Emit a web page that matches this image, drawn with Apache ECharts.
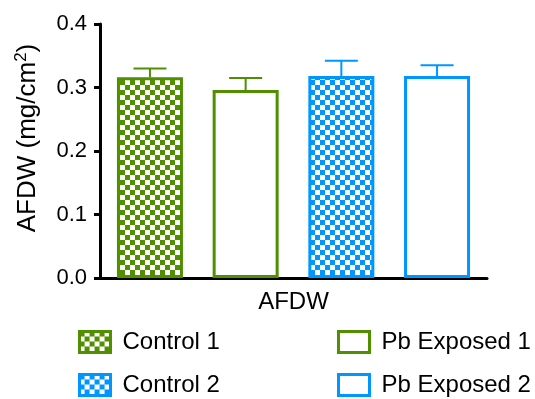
<!DOCTYPE html>
<html>
<head>
<meta charset="utf-8">
<script src="https://cdn.jsdelivr.net/npm/echarts@6/dist/echarts.min.js"></script>
<style>html,body{margin:0;padding:0;background:#fff;}#c{width:535px;height:399px;}</style>
</head>
<body>
<div id="c"></div>
<script>
const categories = ['AFDW'];
const seriesNames = ['Control 1', 'Pb Exposed 1', 'Control 2', 'Pb Exposed 2'];
const means = [0.316, 0.296, 0.318, 0.318];
const sems = [0.014, 0.019, 0.024, 0.017];
const yTicks = [0.0, 0.1, 0.2, 0.3, 0.4];
const yTitleMain = 'AFDW (mg/cm';
const yTitleSup = '2';
const yTitleEnd = ')';

const GREEN = '#4F8F00';
const BLUE = '#0096FF';
const colors = [GREEN, GREEN, BLUE, BLUE];
const patterned = [true, false, true, false];
const BAR_W = 66;
const GAP_RATIO = 0.45;
const FONT = '"Liberation Sans", Arial, Helvetica, sans-serif';

// legend placement (left px, top px) per series
const legendPos = [[78, 330], [337, 330], [78, 373], [337, 373]];

function checker(color) {
  const s = 5;
  const c = document.createElement('canvas');
  c.width = 2 * s; c.height = 2 * s;
  const ctx = c.getContext('2d');
  ctx.fillStyle = '#ffffff';
  ctx.fillRect(0, 0, 2 * s, 2 * s);
  ctx.fillStyle = color;
  ctx.fillRect(0, 0, s, s);
  ctx.fillRect(s, s, s, s);
  return { image: c, repeat: 'repeat' };
}

const chart = echarts.init(document.getElementById('c'), null, { renderer: 'canvas' });

const barSeries = seriesNames.map((name, i) => ({
  name: name,
  type: 'bar',
  barWidth: BAR_W,
  barGap: (GAP_RATIO * 100) + '%',
  data: [means[i]],
  itemStyle: {
    color: patterned[i] ? checker(colors[i]) : '#ffffff',
    borderColor: colors[i],
    borderWidth: 3
  },
  emphasis: { disabled: true },
  animation: false
}));

const errData = seriesNames.map((n, i) => [0, means[i], sems[i], i]);
const n = seriesNames.length;
const gapPx = GAP_RATIO * BAR_W;
const groupW = n * BAR_W + (n - 1) * gapPx;

const errSeries = {
  type: 'custom',
  name: 'err',
  data: errData,
  animation: false,
  z: 5,
  renderItem: function (params, api) {
    const idx = api.value(3);
    const m = api.value(1), e = api.value(2);
    const base = api.coord([api.value(0), m]);
    const top = api.coord([api.value(0), m + e]);
    const off = -groupW / 2 + BAR_W / 2 + idx * (BAR_W + gapPx);
    const x = base[0] + off;
    const cap = BAR_W / 4;
    const col = colors[idx];
    return {
      type: 'group',
      children: [
        { type: 'line', shape: { x1: x, y1: base[1], x2: x, y2: top[1] }, style: { stroke: col, lineWidth: 2 } },
        { type: 'line', shape: { x1: x - cap, y1: top[1], x2: x + cap, y2: top[1] }, style: { stroke: col, lineWidth: 2 } }
      ]
    };
  }
};

const legendText = { fontFamily: FONT, fontSize: 24, color: '#000', padding: [0, 0, 0, 7] };

const legends = seriesNames.map((name, i) => ({
  data: [name],
  left: legendPos[i][0], top: legendPos[i][1],
  itemWidth: 31, itemHeight: 21,
  icon: 'rect',
  itemStyle: { borderWidth: 3 },
  textStyle: legendText,
  selectedMode: false,
  padding: 0
}));

chart.setOption({
  animation: false,
  textStyle: { fontFamily: FONT },
  grid: { left: 100, right: 48, top: 24, bottom: 121, containLabel: false },
  legend: legends,
  xAxis: {
    type: 'category',
    data: categories,
    axisLine: { lineStyle: { color: '#000', width: 3 } },
    axisTick: { show: false },
    axisLabel: { color: '#000', fontSize: 24, fontFamily: FONT, margin: 12 }
  },
  yAxis: {
    type: 'value',
    min: yTicks[0], max: yTicks[yTicks.length - 1], interval: 0.1,
    name: '{a|' + yTitleMain + '}{s|' + yTitleSup + '}{a|' + yTitleEnd + '}',
    nameLocation: 'middle',
    nameRotate: 90,
    nameGap: 57,
    nameTextStyle: {
      color: '#000', fontSize: 26, fontFamily: FONT,
      padding: [0, 0, 0, 26],
      rich: {
        a: { fontSize: 26, fontFamily: FONT, color: '#000' },
        s: { fontSize: 17, fontFamily: FONT, color: '#000', padding: [0, 0, 13, 0] }
      }
    },
    axisLine: { show: true, lineStyle: { color: '#000', width: 3 } },
    axisTick: { show: true, length: 6, lineStyle: { color: '#000', width: 3 } },
    splitLine: { show: false },
    axisLabel: { color: '#000', fontSize: 22, fontFamily: FONT, margin: 13, formatter: v => v.toFixed(1) }
  },
  series: barSeries.concat([errSeries])
});
</script>
</body>
</html>
